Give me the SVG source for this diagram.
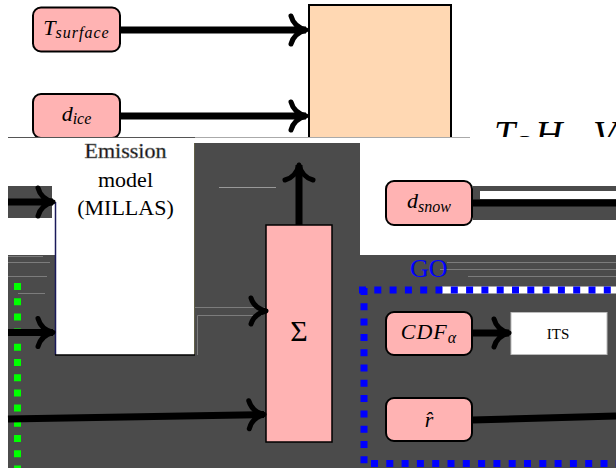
<svg xmlns="http://www.w3.org/2000/svg" width="616" height="468" viewBox="0 0 616 468">
<defs>
<style>
.node{fill:#ffb3b3;stroke:#000;stroke-width:2}
.m{font-family:"Liberation Serif","DejaVu Serif",serif;font-style:italic;fill:#000}
.r{font-family:"Liberation Serif","DejaVu Serif",serif;fill:#000}
.dark{fill:#4b4b4b}
.shaft{stroke:#000;stroke-width:7;fill:none}
.faint{stroke:#7c7c7c;stroke-width:1;fill:none}
.head{stroke:#000;stroke-width:5;fill:none;stroke-linecap:round;stroke-linejoin:round}
.blue{stroke:#0000ff;stroke-width:7;fill:none;stroke-dasharray:7 8.3}
</style>
<marker id="ah" viewBox="-20 -18 24 36" markerWidth="24" markerHeight="36" refX="0" refY="0" orient="auto" markerUnits="userSpaceOnUse">
<path class="head" d="M-15,-14 Q-12,-3 0,0 Q-12,3 -15,14"/>
</marker>
<clipPath id="topclip"><rect x="0" y="0" width="616" height="137"/></clipPath>
</defs>
<rect x="0" y="0" width="616" height="468" fill="#fff"/>

<g clip-path="url(#topclip)">
  <g id="n-block"><rect x="309" y="5" width="142" height="150" fill="#ffd8b3" stroke="#000" stroke-width="2"/></g>
  <g id="n-tsurface">
    <rect class="node" x="33" y="7.5" width="87" height="44" rx="8"/>
    <text class="m" x="76.5" y="34.5" text-anchor="middle" font-size="22">T<tspan font-size="16" dy="3" letter-spacing="1">surface</tspan></text>
  </g>
  <g id="n-dice">
    <rect class="node" x="33" y="94" width="87" height="44" rx="8"/>
    <text class="m" x="76.5" y="121" text-anchor="middle" font-size="22">d<tspan font-size="16" dy="3">ice</tspan></text>
  </g>
  <g id="top-connectors">
    <line class="shaft" x1="120" y1="30" x2="306" y2="30" marker-end="url(#ah)"/>
    <line class="shaft" x1="120" y1="116" x2="306" y2="116" marker-end="url(#ah)"/>
  </g>
  <g id="n-output-label">
    <text class="m" y="147" font-size="38"><tspan x="494">T</tspan><tspan x="518" dy="3" font-size="21">B</tspan><tspan x="535" dy="-3">H,</tspan><tspan x="593">V</tspan></text>
  </g>
</g>
<line x1="8" y1="137.5" x2="195" y2="137.5" stroke="#555" stroke-width="1"/>
<line x1="195" y1="137.5" x2="470" y2="137.5" stroke="#aaa" stroke-width="1"/>

<!-- dark background regions -->
<rect class="dark" x="8" y="186" width="44" height="32"/>
<rect class="dark" x="8" y="255" width="186" height="213"/>
<rect class="dark" x="193" y="143" width="167" height="325"/>
<rect class="dark" x="360" y="255" width="256" height="213"/>
<rect class="dark" x="473" y="186" width="143" height="34"/>
<rect x="480" y="191" width="136" height="8" fill="#fff"/>
<line x1="193.5" y1="143" x2="193.5" y2="355" stroke="#a8a040" stroke-width="1.5"/>
<g class="faint">
  <line x1="8" y1="256.5" x2="43" y2="256.5"/>
  <line x1="8" y1="262.5" x2="50" y2="262.5"/>
  <line x1="8" y1="276.5" x2="47" y2="276.5"/>
  <line x1="18" y1="293.5" x2="45" y2="293.5"/>
  <line x1="219" y1="187.5" x2="276" y2="187.5" stroke="#999"/>
  <line x1="447" y1="262.5" x2="616" y2="262.5"/>
  <line x1="440" y1="269.5" x2="616" y2="269.5"/>
  <line x1="468" y1="276.5" x2="616" y2="276.5"/>
</g>

<g id="n-emission">
  <rect x="55" y="138" width="139" height="217" fill="#fff"/>
  <line x1="55.5" y1="202" x2="55.5" y2="355" stroke="#1a1a5a" stroke-width="1.5"/>
  <line x1="55" y1="355" x2="195" y2="355" stroke="#000" stroke-width="1.5"/>
  <text class="r" x="125.5" y="158" text-anchor="middle" font-size="22" fill="#ddd" stroke="#777" stroke-width="0.6">Emission</text>
  <text class="r" x="125.5" y="187" text-anchor="middle" font-size="22">model</text>
  <text class="r" x="125.5" y="215" text-anchor="middle" font-size="22">(MILLAS)</text>
</g>

<g id="n-sum">
  <rect x="266" y="225" width="66" height="217" fill="#ffb3b3" stroke="#000" stroke-width="1.5"/>
  <text class="r" x="299" y="341" text-anchor="middle" font-size="30">Σ</text>
</g>

<g id="n-green-group">
  <line x1="17.5" y1="283" x2="17.5" y2="468" stroke="#00ff00" stroke-width="7" stroke-dasharray="7 8.2"/>
</g>

<g id="n-go">
  <line x1="442" y1="290" x2="616" y2="290" stroke="#fff" stroke-width="7"/>
  <line class="blue" x1="359" y1="290" x2="630" y2="290"/>
  <line class="blue" x1="364" y1="288" x2="364" y2="468"/>
  <line class="blue" x1="371" y1="463.5" x2="630" y2="463.5"/>
  <text class="r" x="410" y="277" font-size="26" style="fill:#0000ff">GO</text>
</g>

<g id="n-dsnow">
  <rect class="node" x="386" y="181" width="86" height="44" rx="8"/>
  <text class="m" x="429" y="208" text-anchor="middle" font-size="22">d<tspan font-size="16" dy="4">snow</tspan></text>
</g>
<g id="n-cdf">
  <rect class="node" x="386" y="312" width="86" height="43" rx="8"/>
  <text class="m" x="429" y="339" text-anchor="middle" font-size="22" letter-spacing="1">CDF<tspan font-size="16" dy="4">α</tspan></text>
</g>
<g id="n-its">
  <rect x="511" y="312.5" width="96" height="42" fill="#fff" stroke="#bbb" stroke-width="1"/>
  <text class="r" x="558" y="339" text-anchor="middle" font-size="15">ITS</text>
</g>
<g id="n-rhat">
  <rect class="node" x="386" y="398" width="86" height="43" rx="8"/>
  <text class="m" x="429" y="427" text-anchor="middle" font-size="22">r̂</text>
</g>

<g id="connectors">
  <line class="shaft" x1="8" y1="202" x2="53" y2="202" marker-end="url(#ah)"/>
  <line class="shaft" x1="8" y1="332.5" x2="53" y2="332.5" marker-end="url(#ah)"/>
  <line class="shaft" x1="8" y1="419" x2="264" y2="414.5" marker-end="url(#ah)"/>
  <line class="shaft" x1="299" y1="225" x2="299" y2="165" marker-end="url(#ah)"/>
  <line x1="195" y1="307.5" x2="265" y2="307.5" stroke="#7c7c7c" stroke-width="1"/>
  <path d="M197.5,355 V315.5 H262" stroke="#7c7c7c" stroke-width="1" fill="none"/>
  <path class="head" transform="translate(266,311)" d="M-15,-13 Q-12,-3 0,0 Q-12,3 -15,13"/>
  <line class="shaft" x1="472" y1="203" x2="616" y2="203"/>
  <line class="shaft" x1="472" y1="333" x2="509" y2="333" marker-end="url(#ah)"/>
  <line class="shaft" x1="472" y1="420" x2="616" y2="416"/>
</g>
</svg>
